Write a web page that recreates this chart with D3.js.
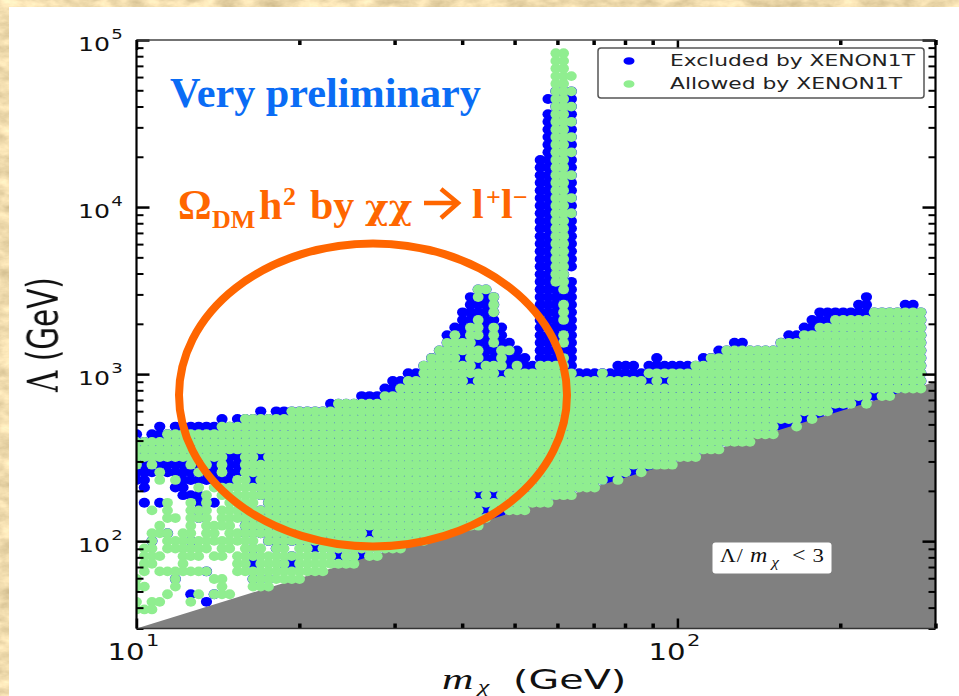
<!DOCTYPE html>
<html>
<head>
<meta charset="utf-8">
<script src="https://cdn.jsdelivr.net/npm/d3@7"></script>
<style>
html, body { margin: 0; padding: 0; background: #fff; overflow: hidden; }
svg { display: block; filter: blur(0.45px); }
</style>
</head>
<body>
<svg id="chart" width="959" height="696"></svg>
<script>
// scan grid
var massScan = [10.00, 10.34, 10.68, 11.04, 11.41, 11.80, 12.19, 12.60, 13.03, 13.47,
    13.92, 14.39, 14.87, 15.37, 15.89, 16.42, 16.97, 17.54, 18.13, 18.74,
    19.37, 20.02, 20.69, 21.39, 22.11, 22.85, 23.62, 24.41, 25.23, 26.08,
    26.96, 27.86, 28.80, 29.77, 30.77, 31.80, 32.87, 33.98, 35.12, 36.30,
    37.52, 38.78, 40.08, 41.43, 42.82, 44.26, 45.75, 47.29, 48.88, 50.52,
    52.22, 53.97, 55.78, 57.66, 59.60, 61.60, 63.67, 65.81, 68.02, 70.31,
    72.67, 75.11, 77.64, 80.25, 82.95, 85.73, 88.61, 91.59, 94.67, 97.85,
    101.1, 104.5, 108.1, 111.7, 115.4, 119.3, 123.3, 127.5, 131.8, 136.2,
    140.8, 145.5, 150.4, 155.4, 160.7, 166.1, 171.6, 177.4, 183.4, 189.5,
    195.9, 202.5, 209.3, 216.3, 223.6, 231.1, 238.9, 246.9, 255.2, 263.8,
    272.7, 281.9];
var lambdaScan = [39.0, 43.32, 48.11, 53.44, 59.36, 65.93, 73.23, 81.34, 90.35, 100.35,
    111.5, 123.8, 137.5, 152.8, 169.7, 188.5, 209.3, 232.5, 258.3, 286.9,
    318.6, 353.9, 393.1, 436.6, 485.0, 538.7, 598.3, 664.6, 738.2, 819.9,
    910.7, 1011, 1123, 1248, 1386, 1539, 1710, 1899, 2110, 2343,
    2603, 2891, 3211, 3567, 3962, 4400, 4888, 5429, 6030, 6698,
    7439, 8263, 9178, 10190, 11320, 12580, 13970, 15520, 17240, 19150,
    21270, 23620, 26240, 29140, 32370, 35950, 39930, 44350, 49270, 54720,
    60780, 67510, 74980, 83280];

// per mass column: rows of lambdaScan covered by each set
var allowedTop = [22, 22, 22, 22, 23, 23, 23, 23, 23, 23, 23, 24, 24, 24, 25, 25, 25, 25, 25, 25,
    26, 26, 26, 26, 26, 26, 27, 27, 27, 27, 27, 27, 28, 28, 29, 30, 30,
    31, 31, 31, 31, 31, 31, 31, 31, 31, 31, 31, 31, 31, 31, 31,
    32, 32, 32, 33, 31, 30, 30, 30, 31, 30, 30, 30, 30, 30,
    31, 31, 31, 31, 31, 31, 32, 32, 33, 33, 34, 34, 34, 34, 34, 34, 34,
    35, 35, 35, 36, 36, 37, 37, 38, 38, 38, 38, 38, 39, 39, 39, 39, 39, 39, 39];
var allowedBottom = [21, 21, 21, 21, 21, 21, 21, 21, 21, 21, 21, 21, 21, 21, 21, 21, 21, 21, 21, 21,
    21, 21, 21, 21, 21, 21, 21, 21, 21, 21, 21, 21, 21, 21, 21, 21,
    9, 9, 10, 10, 10, 11, 11, 11, 11, 12, 12, 12, 13, 13, 13, 14, 14, 14, 15, 15,
    15, 16, 16, 16, 17, 17, 17, 17, 18, 18, 18, 19, 19, 19, 20, 20, 20, 21, 21,
    21, 22, 22, 22, 22, 23, 23, 23, 24, 24, 24, 25, 25, 25, 26, 26, 26, 27, 27,
    27, 28, 28, 28, 28, 29, 29, 29];
var excludedTop = [23, 22, 23, 24, 23, 24, 24, 24, 24, 24, 24, 25, 24, 25, 25, 25, 26, 25, 26, 26,
    26, 26, 26, 26, 26, 27, 27, 27, 27, 28, 28, 28, 29, 30, 30, 31, 31,
    32, 33, 34, 36, 37, 39, 41, 42, 42, 41, 37, 35, 34, 33, 32,
    59, 65, 68, 68, 43, 31, 31, 31, 31, 31, 32, 32, 32, 31, 32, 33, 32, 32, 32, 32, 32,
    33, 33, 34, 34, 35, 35, 34, 34, 34, 34, 35, 36, 36, 37, 38, 39, 39, 39, 39, 39,
    40, 41, 39, 39, 39, 39, 40, 40, 39];

// scattered low mass corner, one string per row from row 20 down, one letter per column
// g allowed, b excluded, x both
var lowMassRows = [
    "xxxxxxxxxxxxbbxxbxxxxxxxxxxxxxxxxxxx",
    "gbgbbbbgbgbgbbxxxxxxxxxxxxxxxxxxxxxx",
    "bbbgbbbbgbbgbbxxxxxxxxxxxxxxxxxxxxxx",
    "bb.g.gbbbbbbbggbxxxxxxxxxxxxxxxxxxxx",
    ".b...bb.g.ggggggxxxxxxxxxxxxxxxxxxxx",
    "......bbbg.gggggxxxxxxxxxxxxxxxxxxxx",
    ".b.bg..gbgb.gggg.xxxxxxxxxxxxxxxxxxx",
    "..g.g..gxg.gggxxxxxxxxxxxxxxxxxxxxxx",
    "....gg.gxg.gggxxxxxxxxxxxxxxxxxxxxxx",
    "...g...g.gggg.xxxxxxxxxxxxxxxxxxxxxx",
    "..ggx.gg.gg.ggxxxxxxxxxxxxxxxxxxxxxx",
    "..x.gggxgggggggg.xxxxxxxxxxxxxxxxxxx",
    ".gg.gggggg.gg.gxg.xg.ggbgxxxxxxxxxx.",
    ".ggg..ggg.gg.ggxggggxgggggbggbgg",
    ".gg...g......ggbgggxbggggggxx",
    ".g.ggggggx...gggggggggggg",
    "g....x....gg...xgxgggg",
    "gg...g.....g...ggg",
    "....g..bg.xgg",
    "g.gg...g.b",
    "ggg"
];
var lowMassTopRow = 20;

// green dots over the peak near 45 GeV, rows 42 down to 32, columns from 37
var peakRows = [
    ".......gg......",
    ".......g.g.....",
    ".........g.....",
    ".........g.....",
    ".......g.......",
    "......gg.g.....",
    "....g.gg.g.....",
    "...gggg..g.....",
    "..gggggg..gg...",
    ".gggg.gg..g....",
    "ggggggg.ggg.g.."
];
var peakTopRow = 42;
var peakFirstColumn = 37;

// resonance spike, column and row runs
var spikeAllowedColumn = [54, 55, 55, 55, 56, 56, 56, 56, 56, 56, 56, 56, 56];
var spikeAllowedFrom = [43, 42, 38, 35, 70, 68, 66, 64, 62, 60, 57, 54, 52];
var spikeAllowedTo = [73, 73, 40, 36, 70, 68, 66, 64, 62, 60, 57, 54, 52];
var spikeExcludedColumn = [53, 56];
var spikeExcludedFrom = [67, 45];
var spikeExcludedTo = [67, 68];

// single excluded points with no allowed point on top
var holeColumn = [30, 44, 46, 45, 47, 47, 43, 42, 66, 68];
var holeRow = [10, 15, 15, 13, 13, 31, 30, 33, 30, 30];

// columns whose lowest point is excluded only
var edgeColumn = [46, 47, 61, 63, 64, 66, 83, 84, 86, 88, 90, 91, 93, 95, 98];

var boundaryMass = [10, 300];
var boundaryLambda = [30, 900];

var xMajorTicks = [10, 100];
var xMinorTicks = [20, 30, 40, 50, 60, 70, 80, 90, 200, 300];
var yMajorTicks = [100, 1000, 10000, 100000];
var yMinorTicks = [30, 40, 50, 60, 70, 80, 90, 200, 300, 400, 500, 600, 700, 800, 900,
    2000, 3000, 4000, 5000, 6000, 7000, 8000, 9000, 20000, 30000, 40000, 50000, 60000, 70000, 80000, 90000];
var xTickLabels = [[10, "1"], [100, "2"]];
var yTickLabels = [[100, "2"], [1000, "3"], [10000, "4"], [100000, "5"]];
var legendLabels = ["Excluded by XENON1T", "Allowed by XENON1T"];

var blue = "#0000ff", green = "#90ee90", orange = "#ff6600", skyBlue = "#0a6cf5";
var sansFont = "DejaVu Sans", serifFont = "Liberation Serif";

var svg = d3.select("#chart");

var x = d3.scaleLog().domain([10, 300]).range([136.5, 935.5]);
var y = d3.scaleLog().domain([30, 100000]).range([628.5, 40]);

// parchment background
var defs = svg.append("defs");
var paper = defs.append("filter").attr("id", "paper").attr("x", 0).attr("y", 0).attr("width", 1).attr("height", 1)
    .attr("color-interpolation-filters", "sRGB");
paper.append("feTurbulence").attr("type", "fractalNoise").attr("baseFrequency", "0.05 0.09").attr("numOctaves", 4).attr("seed", 5);
paper.append("feColorMatrix").attr("type", "matrix")
    .attr("values", "0.30 0 0 0 0.79  0.30 0 0 0 0.71  0.30 0 0 0 0.53  0 0 0 0 1");
defs.append("clipPath").attr("id", "plotClip").append("rect")
    .attr("x", x.range()[0]).attr("y", y.range()[1])
    .attr("width", x.range()[1] - x.range()[0]).attr("height", y.range()[0] - y.range()[1]);

svg.append("rect").attr("width", 959).attr("height", 696).attr("filter", "url(#paper)");
svg.append("rect").attr("x", 9).attr("y", 7).attr("width", 950).attr("height", 689).attr("fill", "#fff");

// build the point lists
var allowed = new Set();
var excluded = new Set();
function key(i, j) { return i + "," + j; }

massScan.forEach(function(m, i) {
    d3.range(allowedBottom[i], allowedTop[i] + 1).forEach(function(j) { allowed.add(key(i, j)); });
    d3.range(allowedBottom[i], excludedTop[i] + 1).forEach(function(j) { excluded.add(key(i, j)); });
});
lowMassRows.forEach(function(row, k) {
    row.split("").forEach(function(c, i) {
        var j = lowMassTopRow - k;
        if (c == "g" || c == "x") allowed.add(key(i, j));
        if (c == "b" || c == "x") excluded.add(key(i, j));
    });
});
peakRows.forEach(function(row, k) {
    row.split("").forEach(function(c, n) {
        if (c == "g") allowed.add(key(peakFirstColumn + n, peakTopRow - k));
    });
});
spikeAllowedColumn.forEach(function(i, n) {
    d3.range(spikeAllowedFrom[n], spikeAllowedTo[n] + 1).forEach(function(j) { allowed.add(key(i, j)); });
});
spikeExcludedColumn.forEach(function(i, n) {
    d3.range(spikeExcludedFrom[n], spikeExcludedTo[n] + 1).forEach(function(j) { excluded.add(key(i, j)); });
});
holeColumn.forEach(function(i, n) {
    allowed.delete(key(i, holeRow[n]));
    excluded.add(key(i, holeRow[n]));
});
edgeColumn.forEach(function(i) { allowed.delete(key(i, allowedBottom[i])); });

function toPoints(set) {
    return Array.from(set).map(function(s) {
        var p = s.split(",");
        return {mass: massScan[+p[0]], lambda: lambdaScan[+p[1]]};
    });
}

var plot = svg.append("g").attr("clip-path", "url(#plotClip)");

plot.append("g").selectAll("ellipse")
    .data(toPoints(excluded)).enter()
    .append("ellipse")
        .attr("cx", function(d) { return x(d.mass); })
        .attr("cy", function(d) { return y(d.lambda); })
        .attr("rx", 5.6)
        .attr("ry", 4.95)
        .attr("fill", blue);

// region where Lambda/m < 3
var forbidden = d3.area()
    .x(function(d) { return x(d); })
    .y0(y(30))
    .y1(function(d, i) { return y(boundaryLambda[i]); });
plot.append("path").attr("d", forbidden(boundaryMass)).attr("fill", "#808080");

plot.append("g").selectAll("ellipse")
    .data(toPoints(allowed)).enter()
    .append("ellipse")
        .attr("cx", function(d) { return x(d.mass); })
        .attr("cy", function(d) { return y(d.lambda); })
        .attr("rx", 5.4)
        .attr("ry", 4.9)
        .attr("fill", green);

// frame and ticks
function drawAxis(axis, transform, color, width) {
    var g = svg.append("g").attr("transform", transform).call(axis);
    g.selectAll("text").remove();
    g.select(".domain").remove();
    g.selectAll("line").attr("stroke", color).attr("stroke-width", width);
}
var xx = "translate(0," + y(30) + ")", xt = "translate(0," + y(100000) + ")";
var yl = "translate(" + x(10) + ",0)", yr = "translate(" + x(300) + ",0)";
drawAxis(d3.axisBottom(x).tickValues(xMinorTicks).tickSize(-5), xx, "#000", 3.5);
drawAxis(d3.axisTop(x).tickValues(xMinorTicks).tickSize(-5), xt, "#000", 3.5);
drawAxis(d3.axisBottom(x).tickValues(xMajorTicks).tickSize(-10), xx, "#000", 2.5);
drawAxis(d3.axisTop(x).tickValues(xMajorTicks).tickSize(-10), xt, "#000", 2.5);
drawAxis(d3.axisLeft(y).tickValues(yMinorTicks).tickSize(-7), yl, "#000", 2);
drawAxis(d3.axisRight(y).tickValues(yMinorTicks).tickSize(-7), yr, "#000", 2);
drawAxis(d3.axisLeft(y).tickValues(yMajorTicks).tickSize(-13), yl, "#000", 2.5);
drawAxis(d3.axisRight(y).tickValues(yMajorTicks).tickSize(-13), yr, "#000", 2.5);

svg.append("line").attr("x1", x(10)).attr("x2", x(300)).attr("y1", y(100000)).attr("y2", y(100000)).attr("stroke", "#444").attr("stroke-width", 1.5);
svg.append("line").attr("x1", x(10)).attr("x2", x(300)).attr("y1", y(30)).attr("y2", y(30)).attr("stroke", "#333").attr("stroke-width", 1.5);
svg.append("line").attr("x1", x(10)).attr("x2", x(10)).attr("y1", y(30)).attr("y2", y(100000)).attr("stroke", "#000").attr("stroke-width", 2.2);
svg.append("line").attr("x1", x(300)).attr("x2", x(300)).attr("y1", y(30)).attr("y2", y(100000)).attr("stroke", "#000").attr("stroke-width", 2.2);

// tick labels, the picture is stretched sideways
function power(px, py, size, sup, stretch) {
    var g = svg.append("g").attr("transform", "translate(" + px + "," + py + ") scale(" + stretch + ",1)")
        .attr("font-family", sansFont).attr("fill", "#111");
    g.append("text").attr("font-size", size).text("10");
    g.append("text").attr("font-size", size * 0.72).attr("x", size * 1.32).attr("y", -size * 0.62).text(sup);
}
yTickLabels.forEach(function(d) { power(78, y(d[0]) + 11, 20, d[1], 1.26); });
xTickLabels.forEach(function(d) { power(x(d[0]) - 29, 660, 23, d[1], 1.27); });

// axis titles
var yTitle = svg.append("text")
    .attr("transform", "translate(58,392) rotate(-90) scale(1,1.45)")
    .attr("font-family", sansFont).attr("font-size", 29.5).attr("fill", "#111");
yTitle.append("tspan").attr("font-family", "DejaVu Serif").text("Λ");
yTitle.append("tspan").text(" (GeV)");

svg.append("text").attr("transform", "translate(442,689) scale(1.45,1)")
    .attr("font-family", serifFont).attr("font-style", "italic").attr("font-size", 30).attr("fill", "#111").text("m");
svg.append("text").attr("transform", "translate(478,692) scale(1.6,1)")
    .attr("font-family", serifFont).attr("font-style", "italic").attr("font-size", 16).attr("fill", "#111").text("χ");
svg.append("text").attr("transform", "translate(513,689) scale(1.47,1)")
    .attr("font-family", sansFont).attr("font-size", 27).attr("fill", "#111").text("(GeV)");

// legend
svg.append("rect").attr("x", 598).attr("y", 48).attr("width", 326).attr("height", 50).attr("rx", 3)
    .attr("fill", "#fff").attr("stroke", "#555").attr("stroke-width", 1.5);
var legendColors = [blue, green];
var legendLengths = [245, 232];
svg.selectAll("legendDots")
    .data(legendLabels).enter()
    .append("ellipse")
        .attr("cx", 629)
        .attr("cy", function(d, i) { return 61 + i * 23; })
        .attr("rx", 5.5)
        .attr("ry", 3.8)
        .attr("fill", function(d, i) { return legendColors[i]; });
svg.selectAll("legendText")
    .data(legendLabels).enter()
    .append("text")
        .attr("x", 670)
        .attr("y", function(d, i) { return 66 + i * 23; })
        .attr("font-family", sansFont)
        .attr("font-size", 15.5)
        .attr("fill", "#222")
        .attr("textLength", function(d, i) { return legendLengths[i]; })
        .attr("lengthAdjust", "spacingAndGlyphs")
        .text(function(d) { return d; });

// Lambda/m box
svg.append("rect").attr("x", 712.5).attr("y", 542.5).attr("width", 119).attr("height", 31).attr("rx", 3).attr("fill", "#fff");
var boxText = svg.append("g").attr("transform", "translate(720,562) scale(1.2,1)")
    .attr("font-family", serifFont).attr("font-size", 18).attr("fill", "#111");
boxText.append("text").text("Λ");
boxText.append("text").attr("x", 14).text("/");
boxText.append("text").attr("x", 25).attr("font-style", "italic").attr("font-size", 20).text("m");
boxText.append("text").attr("x", 43).attr("y", 5).attr("font-size", 14).attr("font-style", "italic").text("χ");
boxText.append("text").attr("x", 60).attr("font-size", 20).text("<");
boxText.append("text").attr("x", 77).attr("font-size", 19).text("3");

// slide annotations
svg.append("text").attr("x", 170).attr("y", 107)
    .attr("font-family", serifFont).attr("font-weight", "bold").attr("font-size", 42).attr("fill", skyBlue)
    .attr("textLength", 311).attr("lengthAdjust", "spacingAndGlyphs")
    .text("Very preliminary");

var oText = svg.append("g").attr("font-family", serifFont).attr("font-weight", "bold").attr("fill", orange);
oText.append("text").attr("x", 178).attr("y", 219).attr("font-size", 42).text("Ω");
oText.append("text").attr("x", 212).attr("y", 228).attr("font-size", 26).text("DM");
oText.append("text").attr("x", 259).attr("y", 219).attr("font-size", 42).text("h");
oText.append("text").attr("x", 283).attr("y", 205).attr("font-size", 26).text("2");
oText.append("text").attr("x", 310).attr("y", 219).attr("font-size", 42).text("by");
oText.append("text").attr("x", 365).attr("y", 219).attr("font-family", "DejaVu Serif").attr("font-size", 36).text("χχ");
oText.append("text").attr("x", 472).attr("y", 218).attr("font-size", 42).text("l");
oText.append("text").attr("x", 486).attr("y", 206).attr("font-size", 26).text("+");
oText.append("text").attr("x", 501).attr("y", 218).attr("font-size", 42).text("l");
oText.append("text").attr("x", 513).attr("y", 206).attr("font-size", 26).text("−");

var arrow = d3.path();
arrow.moveTo(424, 203); arrow.lineTo(457, 203);
arrow.moveTo(441, 189); arrow.lineTo(458, 203); arrow.lineTo(441, 218);
svg.append("path").attr("d", arrow.toString()).attr("fill", "none").attr("stroke", orange).attr("stroke-width", 4.5);

svg.append("ellipse").attr("cx", 373).attr("cy", 395).attr("rx", 194).attr("ry", 151.5)
    .attr("fill", "none").attr("stroke", orange).attr("stroke-width", 8);
</script>
</body>
</html>
